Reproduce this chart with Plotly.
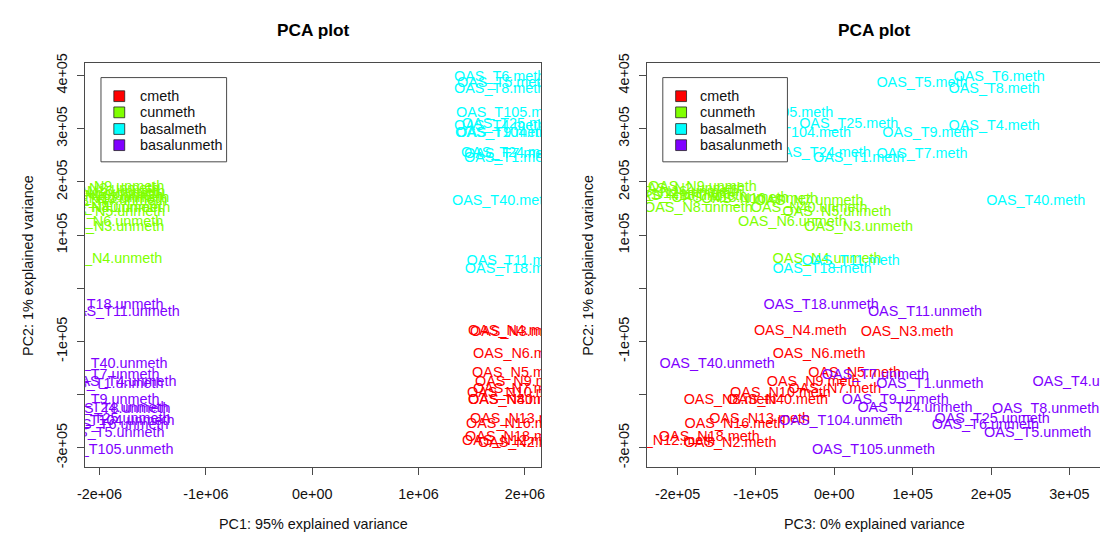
import plotly.graph_objects as go

# ---------------- data ----------------
groups = ["cmeth", "cunmeth", "basalmeth", "basalunmeth"]
group_colors = ["#FF0000", "#80FF00", "#00FFFF", "#8000FF"]

# cmeth (normal, methylated)
cmeth_names = ["N4", "N3", "N6", "N5", "N9", "N7", "N10", "N8", "N40", "N13", "N16", "N18", "N12", "N2"]
cmeth_pc1 = [1.902e6, 1.921e6, 1.949e6, 1.940e6, 1.967e6, 1.949e6, 1.930e6, 1.902e6, 1.940e6, 1.958e6, 1.921e6, 1.912e6, 1.884e6, 1.995e6]
cmeth_pc2 = [-0.808e5, -0.827e5, -1.250e5, -1.600e5, -1.766e5, -1.895e5, -1.969e5, -2.116e5, -2.116e5, -2.466e5, -2.558e5, -2.797e5, -2.871e5, -2.926e5]
cmeth_pc3 = [-0.434e5, 0.929e5, -0.194e5, 0.260e5, -0.270e5, 0.008e5, -0.687e5, -1.331e5, -0.725e5, -0.952e5, -1.268e5, -1.596e5, -2.164e5, -1.331e5]

# cunmeth (normal, unmethylated)
cunmeth_names = ["N9", "N2", "N12", "N16", "N18", "N13", "N10", "N7", "N40", "N8", "N5", "N6", "N3", "N4"]
cunmeth_pc1 = [-1.902e6, -1.949e6, -1.977e6, -1.930e6, -1.949e6, -1.893e6, -1.912e6, -1.874e6, -1.884e6, -1.930e6, -1.893e6, -1.912e6, -1.902e6, -1.921e6]
cunmeth_pc2 = [1.899e5, 1.862e5, 1.770e5, 1.807e5, 1.733e5, 1.696e5, 1.678e5, 1.641e5, 1.494e5, 1.494e5, 1.420e5, 1.236e5, 1.144e5, 0.536e5]
cunmeth_pc3 = [-1.684e5, -1.836e5, -2.063e5, -1.962e5, -1.861e5, -1.331e5, -0.952e5, -0.321e5, -0.321e5, -1.735e5, 0.033e5, -0.535e5, 0.311e5, -0.093e5]

# basalmeth (tumour, methylated)
basalmeth_names = ["T6", "T5", "T8", "T105", "T25", "T104", "T9", "T4", "T24", "T1", "T7", "T40", "T11", "T18"]
basalmeth_pc1 = [1.763e6, 1.791e6, 1.763e6, 1.856e6, 1.874e6, 1.847e6, 1.781e6, 1.763e6, 1.865e6, 1.856e6, 1.856e6, 1.781e6, 1.912e6, 1.902e6]
basalmeth_pc2 = [3.962e5, 3.852e5, 3.741e5, 3.280e5, 3.077e5, 2.912e5, 2.912e5, 3.041e5, 2.544e5, 2.433e5, 2.525e5, 1.641e5, 0.499e5, 0.352e5]
basalmeth_pc3 = [2.104e5, 1.119e5, 2.040e5, -0.699e5, 0.184e5, -0.472e5, 1.194e5, 2.040e5, -0.169e5, 0.311e5, 1.119e5, 2.571e5, 0.210e5, -0.157e5]

# basalunmeth (tumour, unmethylated)
basalunmeth_names = ["T18", "T11", "T40", "T7", "T1", "T4", "T9", "T24", "T8", "T104", "T25", "T6", "T5", "T105"]
basalunmeth_pc1 = [-1.940e6, -1.781e6, -1.902e6, -1.940e6, -1.902e6, -1.781e6, -1.940e6, -1.893e6, -1.837e6, -1.874e6, -1.874e6, -1.856e6, -1.893e6, -1.884e6]
basalunmeth_pc2 = [-0.330e5, -0.459e5, -1.435e5, -1.638e5, -1.803e5, -1.766e5, -2.116e5, -2.264e5, -2.282e5, -2.503e5, -2.466e5, -2.576e5, -2.724e5, -3.055e5]
basalunmeth_pc3 = [-0.169e5, 1.157e5, -1.495e5, 0.525e5, 1.220e5, 3.215e5, 0.778e5, 1.030e5, 2.697e5, 0.083e5, 2.015e5, 1.927e5, 2.596e5, 0.500e5]

x1_ticks = [-2e6, -1e6, 0, 1e6, 2e6]
x1_ticktext = ["-2e+06", "-1e+06", "0e+00", "1e+06", "2e+06"]
x2_ticks = [-2e5, -1e5, 0, 1e5, 2e5, 3e5]
x2_ticktext = ["-2e+05", "-1e+05", "0e+00", "1e+05", "2e+05", "3e+05"]
y_ticks = [-3e5, -2e5, -1e5, 0, 1e5, 2e5, 3e5, 4e5]
y_ticktext = ["-3e+05", "", "-1e+05", "", "1e+05", "2e+05", "3e+05", "4e+05"]

titles = ["PCA plot", "PCA plot"]
x_titles = ["PC1: 95% explained variance", "PC3: 0% explained variance"]
y_titles = ["PC2: 1% explained variance", "PC2: 1% explained variance"]

# ---------------- figure ----------------
W, H = 1104, 536
FONT = "Liberation Sans, Arial, Helvetica, sans-serif"
FS = 14.4
LINE = "#4a4a4a"


def px(x):
    return x / W


def py(y):
    return 1 - y / H


data = {
    "cmeth": (cmeth_names, cmeth_pc1, cmeth_pc2, cmeth_pc3, "meth"),
    "cunmeth": (cunmeth_names, cunmeth_pc1, cunmeth_pc2, cunmeth_pc3, "unmeth"),
    "basalmeth": (basalmeth_names, basalmeth_pc1, basalmeth_pc2, basalmeth_pc3, "meth"),
    "basalunmeth": (basalunmeth_names, basalunmeth_pc1, basalunmeth_pc2, basalunmeth_pc3, "unmeth"),
}

fig = go.Figure()
for g, col in zip(groups, group_colors):
    names, p1, p2, p3, suf = data[g]
    labels = [f"OAS_{n}.{suf}" for n in names]
    for xs, xa, ya in ((p1, "x", "y"), (p3, "x2", "y2")):
        fig.add_trace(go.Scatter(
            x=xs, y=p2, mode="text", text=labels, textposition="middle center",
            textfont=dict(color=col, size=FS, family=FONT),
            xaxis=xa, yaxis=ya, showlegend=False, cliponaxis=True, hoverinfo="skip"))

axis_common = dict(showgrid=False, zeroline=False, showline=True, linecolor=LINE, linewidth=1,
                   ticks="outside", ticklen=7, tickwidth=1, tickcolor=LINE,
                   tickfont=dict(size=FS, family=FONT, color="#111"))

ydom = [py(467), py(54)]
yrange = [-3.369e5, 4.238e5]

fig.update_layout(
    width=W, height=H, margin=dict(l=0, r=0, t=0, b=0),
    paper_bgcolor="white", plot_bgcolor="white", showlegend=False,
    xaxis=dict(domain=[px(78), px(539)], range=[-2.135e6, 2.153e6], anchor="y",
               tickvals=x1_ticks, ticktext=x1_ticktext, mirror=True,
               ticklabelstandoff=6, **axis_common),
    yaxis=dict(domain=ydom, range=yrange, anchor="x", tickvals=y_ticks, ticktext=y_ticktext,
               tickangle=-90, mirror=True, ticklabelstandoff=4, **axis_common),
    xaxis2=dict(domain=[px(646), 1.0], range=[-2.391e5, 3.391e5], anchor="y2",
                tickvals=x2_ticks, ticktext=x2_ticktext, mirror=True,
                ticklabelstandoff=6, **axis_common),
    yaxis2=dict(domain=ydom, range=yrange, anchor="x2", tickvals=y_ticks, ticktext=y_ticktext,
                tickangle=-90, mirror=False, ticklabelstandoff=4, **axis_common),
)

annotations = []
panel_centers = [308.5, 876]
ytitle_x = [20, 587]
for i in range(2):
    annotations.append(dict(text=f"<b>{titles[i]}</b>", x=px(panel_centers[i]), y=py(20),
                            xref="paper", yref="paper", showarrow=False, xanchor="center", yanchor="middle",
                            font=dict(size=17.3, family=FONT, color="#000")))
    annotations.append(dict(text=x_titles[i], x=px(panel_centers[i]), y=py(525),
                            xref="paper", yref="paper", showarrow=False, xanchor="center", yanchor="middle",
                            font=dict(size=FS, family=FONT, color="#111")))
    annotations.append(dict(text=y_titles[i], x=px(ytitle_x[i]), y=py(260.5), textangle=-90,
                            xref="paper", yref="paper", showarrow=False, xanchor="center", yanchor="middle",
                            font=dict(size=FS, family=FONT, color="#111")))

# legends (one per panel)
shapes = []
legend_boxes = [(94, 221, 69, 155, 107, 118, 131), (662, 788, 69, 155, 675, 686, 698)]
legend_rows = [88, 104.5, 121.5, 138]
for (bx0, bx1, by0, by1, sx0, sx1, tx) in legend_boxes:
    shapes.append(dict(type="rect", xref="paper", yref="paper", x0=px(bx0), x1=px(bx1),
                       y0=py(by1), y1=py(by0), line=dict(color=LINE, width=1), fillcolor="white", layer="above"))
    for g, col, yc in zip(groups, group_colors, legend_rows):
        shapes.append(dict(type="rect", xref="paper", yref="paper", x0=px(sx0), x1=px(sx1),
                           y0=py(yc + 5.5), y1=py(yc - 5.5), line=dict(color="#222", width=0.8),
                           fillcolor=col, layer="above"))
        annotations.append(dict(text=g, x=px(tx), y=py(yc), xref="paper", yref="paper",
                                showarrow=False, xanchor="left", yanchor="middle",
                                font=dict(size=FS, family=FONT, color="#111")))

fig.update_layout(annotations=annotations, shapes=shapes)
fig.write_html("out.html")
